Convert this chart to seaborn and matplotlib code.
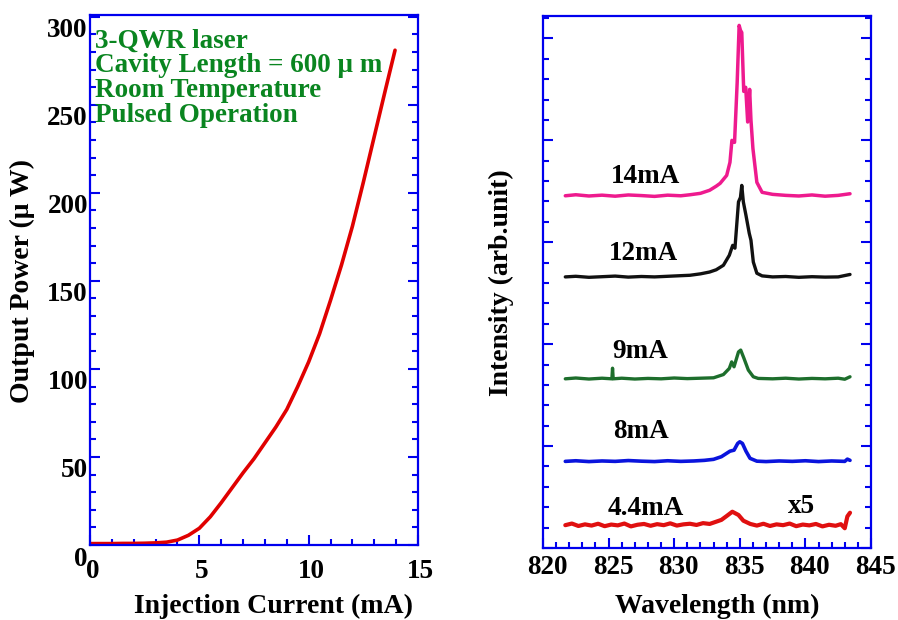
import matplotlib
matplotlib.use("Agg")
import matplotlib.pyplot as plt
import matplotlib.transforms as mtransforms
from matplotlib.ticker import MultipleLocator
import pandas as pd
import seaborn as sns

# ---------------- L-I characteristic ----------------
current_ma = [0, 0.5, 1, 1.5, 2, 2.5, 3, 3.5, 4, 4.5, 5, 5.5, 6, 6.5, 7, 7.5,
              8, 8.5, 9, 9.5, 10, 10.5, 11, 11.5, 12, 12.5, 13, 13.5, 13.95]
power_uw = [0.8, 0.8, 0.8, 0.9, 0.9, 1.0, 1.2, 1.6, 2.8, 5.5, 9.5, 16, 24, 32.5, 41, 49,
            58, 67, 77, 90, 104, 120, 139, 159, 181, 206, 232, 258, 281]

info_lines = ["3-QWR laser", "Cavity Length = 600 \u03bc m",
              "Room Temperature", "Pulsed Operation"]

# ---------------- emission spectra (offset for clarity) ----------------
wl_14 = [821.7, 822.5, 823.5, 824.5, 825.5, 826.5, 827.5, 828.5, 829.5, 830.5,
         831.2, 832.0, 832.7, 833.2, 833.5, 834.0, 834.25, 834.4, 834.6, 834.8,
         834.95, 835.05, 835.15, 835.3, 835.45, 835.6, 835.75, 835.85, 836.0,
         836.3, 836.7, 837.5, 838.5, 839.5, 840.5, 841.5, 842.5, 843.4]
int_14 = [17.28, 17.33, 17.27, 17.31, 17.26, 17.32, 17.29, 17.25, 17.31, 17.28,
          17.33, 17.40, 17.55, 17.75, 17.89, 18.28, 18.92, 20.0, 19.9, 22.84,
          25.64, 25.4, 25.29, 22.4, 22.6, 20.9, 22.5, 21.0, 19.6,
          17.94, 17.45, 17.35, 17.30, 17.27, 17.32, 17.26, 17.30, 17.38]

wl_12 = [821.7, 822.5, 823.5, 824.5, 825.5, 826.5, 827.5, 828.5, 829.5, 830.5,
         831.2, 832.0, 832.7, 833.2, 833.75, 834.2, 834.46, 834.63, 834.9, 835.05,
         835.15, 835.27, 835.47, 835.72, 835.85, 836.03, 836.3, 836.7, 837.5,
         838.5, 839.5, 840.5, 841.5, 842.5, 843.4]
int_12 = [13.30, 13.33, 13.28, 13.31, 13.34, 13.29, 13.32, 13.30, 13.33, 13.36,
          13.38, 13.45, 13.54, 13.65, 13.87, 14.36, 14.85, 14.71, 16.98, 17.2,
          17.79, 16.98, 16.32, 15.44, 15.10, 14.03, 13.48, 13.35, 13.30,
          13.32, 13.28, 13.31, 13.29, 13.30, 13.42]

wl_9 = [821.7, 822.5, 823.5, 824.5, 825.25, 825.3, 825.35, 826.0, 827.0, 828.0,
        829.0, 830.0, 831.0, 832.0, 833.0, 833.75, 834.2, 834.38, 834.56, 834.9,
        835.07, 835.32, 835.65, 836.03, 836.4, 837.5, 838.5, 839.5, 840.5, 841.5,
        842.5, 843.0, 843.4]
int_9 = [8.30, 8.34, 8.29, 8.33, 8.30, 8.82, 8.30, 8.33, 8.29, 8.32,
         8.30, 8.34, 8.31, 8.33, 8.35, 8.51, 8.81, 9.13, 8.89, 9.62,
         9.71, 9.30, 8.73, 8.40, 8.32, 8.30, 8.33, 8.29, 8.32, 8.30,
         8.33, 8.28, 8.40]

wl_8 = [821.7, 822.5, 823.5, 824.5, 825.5, 826.5, 827.5, 828.5, 829.5, 830.5,
        831.5, 832.3, 833.0, 833.6, 834.25, 834.56, 834.84, 835.0, 835.2, 835.47,
        835.78, 836.3, 837.0, 838.0, 839.0, 840.0, 841.0, 842.0, 843.0, 843.2, 843.4]
int_8 = [4.25, 4.28, 4.24, 4.27, 4.25, 4.29, 4.26, 4.24, 4.28, 4.25,
         4.27, 4.30, 4.35, 4.48, 4.75, 4.80, 5.13, 5.21, 5.13, 4.75,
         4.40, 4.26, 4.24, 4.27, 4.25, 4.28, 4.24, 4.27, 4.25, 4.36, 4.30]

wl_44 = [821.7, 822.2, 822.7, 823.2, 823.7, 824.2, 824.7, 825.2, 825.7, 826.2,
         826.7, 827.2, 827.7, 828.2, 828.7, 829.2, 829.7, 830.2, 830.7, 831.2,
         831.7, 832.2, 832.7, 833.2, 833.6, 834.0, 834.43, 834.9, 835.27, 835.8,
         836.3, 836.8, 837.3, 837.8, 838.3, 838.8, 839.3, 839.8, 840.3, 840.8,
         841.3, 841.8, 842.3, 842.7, 843.0, 843.2, 843.4]
int_44 = [1.12, 1.20, 1.08, 1.16, 1.10, 1.19, 1.07, 1.15, 1.11, 1.20,
          1.06, 1.14, 1.18, 1.09, 1.17, 1.12, 1.21, 1.10, 1.16, 1.19,
          1.13, 1.22, 1.18, 1.29, 1.38, 1.57, 1.78, 1.62, 1.34, 1.18,
          1.10, 1.19, 1.08, 1.16, 1.12, 1.20, 1.07, 1.15, 1.11, 1.18,
          1.06, 1.14, 1.09, 1.17, 0.97, 1.55, 1.73]

spectrum_labels = ["14mA", "12mA", "9mA", "8mA", "4.4mA"]
label_wl = [827.85, 827.66, 827.4, 827.5, 827.8]
label_base = [17.9, 14.12, 9.31, 5.39, 1.62]
spectrum_colors = ["#ee1a8e", "#111111", "#1d6e2c", "#0a14dd", "#e01010"]

BLUE = "#0000ee"
TXT_GREEN = "#0a8520"
FS_TICK = 19.5
FS_LABEL = 20

sns.set_style("ticks")
plt.rcParams["font.family"] = ["Liberation Serif", "DejaVu Serif"]
plt.rcParams["font.weight"] = "bold"
plt.rcParams["axes.labelweight"] = "bold"
plt.rcParams["text.color"] = "black"
plt.rcParams["axes.labelcolor"] = "black"
plt.rcParams["xtick.labelcolor"] = "black"
plt.rcParams["ytick.labelcolor"] = "black"

fig = plt.figure(figsize=(8.98, 6.2), dpi=100)
ax1 = fig.add_axes([90 / 898, 75 / 620, 328 / 898, 530 / 620])
ax2 = fig.add_axes([543 / 898, 72 / 620, 328 / 898, 532 / 620])

# L-I curve
sns.lineplot(x=current_ma, y=power_uw, ax=ax1, color="#e00000", linewidth=2.6)
ax1.set_xlim(0, 15)
ax1.set_ylim(0, 301)
ax1.xaxis.set_major_locator(MultipleLocator(5))
ax1.xaxis.set_minor_locator(MultipleLocator(1))
ax1.yaxis.set_major_locator(MultipleLocator(50))
ax1.yaxis.set_minor_locator(MultipleLocator(10))
ax1.set_xlabel("Injection Current (mA)", fontsize=FS_LABEL, fontweight="bold")
ax1.set_ylabel("Output Power (\u03bc W)", fontsize=FS_LABEL, fontweight="bold")
ax1.xaxis.set_label_coords(0.558, -0.092)
ax1.yaxis.set_label_coords(-0.168, 0.498)

for i, line in enumerate(info_lines):
    ax1.text(0.23, 282.6 - i * 14.2, line, color=TXT_GREEN, fontsize=19.5,
             fontweight="bold", ha="left", va="baseline")

# spectra
frames = []
for name, wl, inten in zip(spectrum_labels,
                           [wl_14, wl_12, wl_9, wl_8, wl_44],
                           [int_14, int_12, int_9, int_8, int_44]):
    frames.append(pd.DataFrame({"wavelength": wl, "intensity": inten, "current": name}))
spectra = pd.concat(frames, ignore_index=True)
lw_map = {"14mA": 2.5, "12mA": 2.4, "9mA": 2.4, "8mA": 2.6, "4.4mA": 3.0}
for name, color in zip(spectrum_labels, spectrum_colors):
    sub = spectra[spectra["current"] == name]
    sns.lineplot(data=sub, x="wavelength", y="intensity", ax=ax2, color=color,
                 linewidth=lw_map[name])

for name, xw, yb in zip(spectrum_labels, label_wl, label_base):
    ax2.text(xw, yb, name, fontsize=FS_TICK, fontweight="bold", color="black",
             ha="center", va="baseline")
ax2.text(839.7, 1.72, "x5", fontsize=FS_TICK, fontweight="bold", color="black",
         ha="center", va="baseline")

ax2.set_xlim(820, 845)
ax2.set_ylim(0, 26.1)
ax2.xaxis.set_major_locator(MultipleLocator(5))
ax2.xaxis.set_minor_locator(MultipleLocator(1))
ax2.yaxis.set_major_locator(MultipleLocator(5))
ax2.yaxis.set_minor_locator(MultipleLocator(1))
ax2.set_xlabel("Wavelength (nm)", fontsize=FS_LABEL, fontweight="bold")
ax2.set_ylabel("Intensity (arb.unit)", fontsize=FS_LABEL, fontweight="bold")
ax2.xaxis.set_label_coords(0.53, -0.086)
ax2.yaxis.set_label_coords(-0.088, 0.498)

for ax in (ax1, ax2):
    for s in ax.spines.values():
        s.set_visible(True)
        s.set_color(BLUE)
        s.set_linewidth(1.6)
    ax.tick_params(which="both", direction="in", color=BLUE, width=1.5,
                   top=False, right=True, labelsize=FS_TICK, labelcolor="black")
    ax.tick_params(which="major", length=7.5)
    ax.tick_params(which="minor", length=4)
    for lbl in ax.get_xticklabels() + ax.get_yticklabels():
        lbl.set_fontweight("bold")

ax1.tick_params(axis="x", pad=10)
ax1.tick_params(axis="y", pad=1.5)
ax2.tick_params(axis="x", pad=5)
ax2.tick_params(axis="y", labelleft=False)

# nudge tick labels like the original layout
for lbl in ax1.get_yticklabels():
    lbl.set_transform(lbl.get_transform() +
                      mtransforms.ScaledTranslation(0, -0.11, fig.dpi_scale_trans))
for lbl in ax1.get_xticklabels():
    lbl.set_transform(lbl.get_transform() +
                      mtransforms.ScaledTranslation(0.025, 0, fig.dpi_scale_trans))
for lbl in ax2.get_xticklabels():
    lbl.set_transform(lbl.get_transform() +
                      mtransforms.ScaledTranslation(0.045, 0, fig.dpi_scale_trans))

fig.savefig("out.png", dpi=100)
